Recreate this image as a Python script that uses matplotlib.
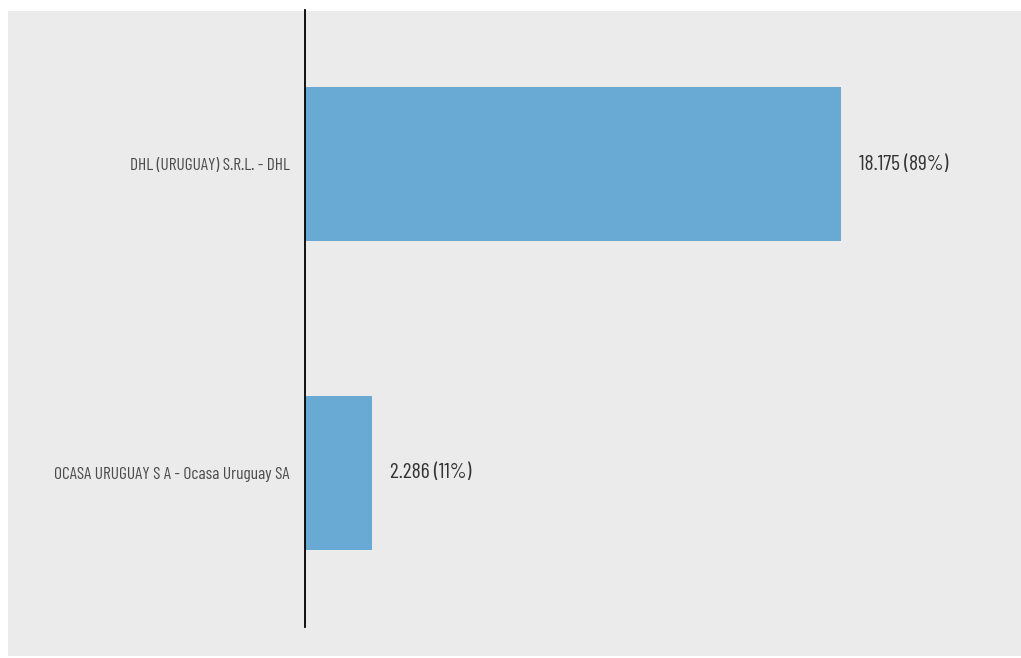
import numpy as np
import matplotlib.pyplot as plt

# Data
categories = ['DHL (URUGUAY) S.R.L. - DHL', 'OCASA URUGUAY S A - Ocasa Uruguay SA']
values = [18175, 2286]
pct_labels = ['18.175 (89%)', '2.286 (11%)']

plt.rcParams['font.family'] = ['Barlow Condensed', 'DejaVu Sans']

W, H = 1021, 658
fig = plt.figure(figsize=(W / 100, H / 100), dpi=100)
fig.patch.set_facecolor('white')

# gray panel behind the chart
bg = fig.add_axes([8 / W, 1 - 656 / H, (W - 8) / W, (656 - 11) / H])
bg.set_facecolor('#ebebeb')
bg.set_xticks([])
bg.set_yticks([])
for s in bg.spines.values():
    s.set_visible(False)
bg.set_zorder(0)

ax = fig.add_axes([305 / W, 1 - 627 / H, 700 / W, 617 / H])
ax.set_zorder(1)
ax.patch.set_alpha(0)

y = np.arange(len(categories))
ax.barh(y, values, height=0.5, color='#68aad4')
ax.set_ylim(1.5, -0.5)
ax.set_xlim(0, 700 * 18175 / 536)

ax.set_yticks(y)
ax.set_yticklabels(categories, fontsize=12.5, color='#4a4a4a')
ax.tick_params(axis='y', length=0, pad=11)
ax.set_xticks([])

for s in ['top', 'right', 'bottom']:
    ax.spines[s].set_visible(False)
ax.spines['left'].set_color('black')
ax.spines['left'].set_linewidth(1.3)

for yi, v, lab in zip(y, values, pct_labels):
    ax.annotate(lab, (v, yi), xytext=(13, 0), textcoords='offset points',
                va='center', ha='left', fontsize=15.5, color='#333333')

fig.savefig('out.png', dpi=100)
